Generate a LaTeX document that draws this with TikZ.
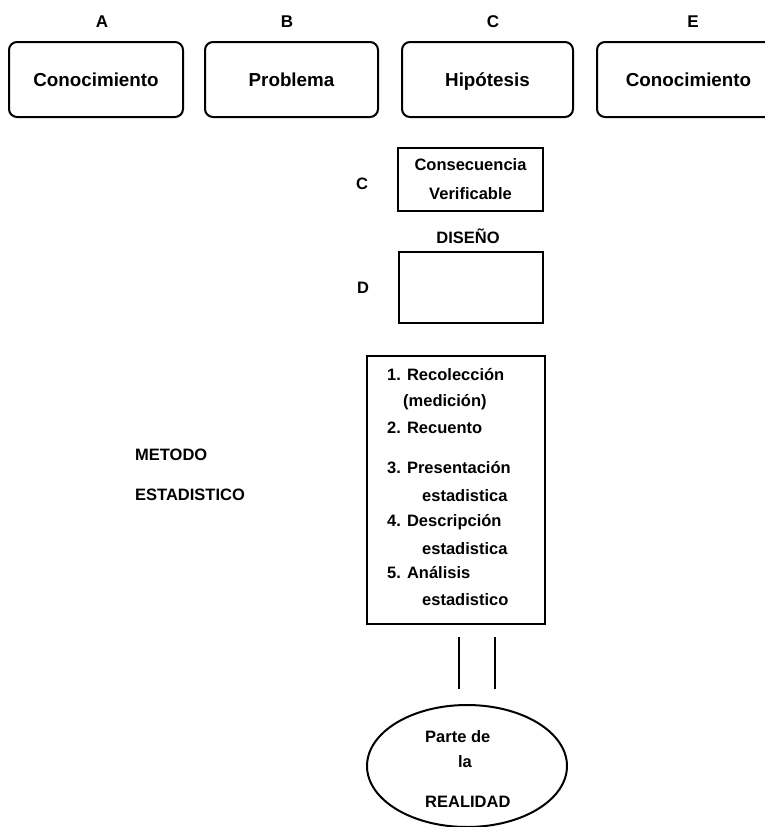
\documentclass[tikz,border=0pt]{standalone}
\usepackage{fontspec}
\setmainfont{Liberation Sans}
\usetikzlibrary{shapes.geometric}
\begin{document}
\begin{tikzpicture}[x=1pt,y=-1pt,
  topbox/.style={draw, line width=2pt, rounded corners=8pt, minimum height=75pt, inner sep=0pt, text height=13.5pt, text depth=0pt, font=\bfseries\fontsize{18.8}{22}\selectfont},
  sqbox/.style={draw, line width=2pt, inner sep=0pt},
  lbl/.style={font=\bfseries\fontsize{16.5}{20}\selectfont, inner sep=0pt},
  toplbl/.style={font=\bfseries\fontsize{17}{20}\selectfont, inner sep=0pt},
  conn/.style={line width=2.2pt}
]
\useasboundingbox (0,0) rectangle (765,827);
\clip (0,0) rectangle (765,827);

% top row
\node[toplbl] (la) at (102,22) {A};
\node[toplbl] (lb) at (287,22) {B};
\node[toplbl] (lc) at (493,22) {C};
\node[toplbl] (le) at (693,22) {E};
\node[topbox, minimum width=174pt] (ka) at (96,79.5) {Conocimiento};
\node[topbox, minimum width=173pt] (pb) at (291.5,79.5) {Problema};
\node[topbox, minimum width=171pt] (hp) at (487.5,79.5) {Hipótesis};
\node[topbox, minimum width=183pt] (ke) at (688.5,79.5) {Conocimiento};

% consecuencia verificable
\node[lbl] (lc2) at (362,184) {C};
\node[sqbox, minimum width=145pt, minimum height=63pt, align=center,
      font=\bfseries\fontsize{16.5}{29}\selectfont] (cv) at (470.5,179.5) {Consecuencia\\Verificable};
\node[lbl] (dis) at (468,236) {DISEÑO};

% design box
\node[lbl] (ld) at (363,288) {D};
\node[sqbox, minimum width=144pt, minimum height=71pt] (ds) at (471,287.5) {};

% statistical method
\node[lbl, anchor=west] (met) at (135,455) {METODO};
\node[lbl, anchor=west] (est) at (135,495) {ESTADISTICO};
\node[sqbox, minimum width=178pt, minimum height=268pt] (st) at (456,490) {};
\node[lbl, anchor=west] (i1) at (387,375) {1. Recolección};
\node[lbl, anchor=west] (i1b) at (403,402) {(medición)};
\node[lbl, anchor=west] (i2) at (387,428) {2. Recuento};
\node[lbl, anchor=west] (i3) at (387,468) {3. Presentación};
\node[lbl, anchor=west] (i3b) at (422,496) {estadistica};
\node[lbl, anchor=west] (i4) at (387,522) {4. Descripción};
\node[lbl, anchor=west] (i4b) at (422,549) {estadistica};
\node[lbl, anchor=west] (i5) at (387,573) {5. Análisis};
\node[lbl, anchor=west] (i5b) at (422,600) {estadistico};

% reality
\node[draw, ellipse, line width=2pt, minimum width=200pt, minimum height=122pt, inner sep=0pt] (re) at (467,766) {};
\node[lbl, anchor=west] (r1) at (425,737) {Parte de};
\node[lbl] (r2) at (465,762) {la};
\node[lbl, anchor=west] (r3) at (425,802) {REALIDAD};

\coordinate (l1) at (459,0);
\coordinate (l2) at (495,0);
\draw[conn, shorten <=12pt, shorten >=15pt] (st.south -| l1) -- (re.north -| l1);
\draw[conn, shorten <=12pt, shorten >=15pt] (st.south -| l2) -- (re.north -| l2);
\end{tikzpicture}
\end{document}
